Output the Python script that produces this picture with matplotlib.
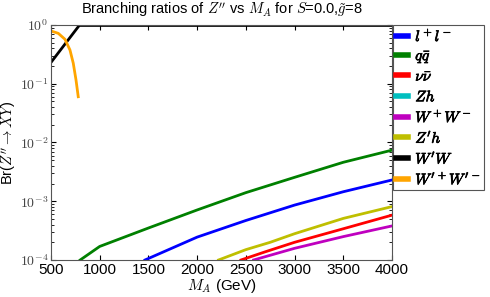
"""Branching ratios of Z'' vs M_A (S=0.0, g~=8)."""

import matplotlib

matplotlib.use("Agg")
import matplotlib.pyplot as plt
import matplotlib.patheffects as pe
from matplotlib.ticker import FuncFormatter
import numpy as np

plt.rcParams["mathtext.fontset"] = "cm"
plt.rcParams["font.family"] = ["Liberation Sans", "DejaVu Sans"]
plt.rcParams["font.size"] = 10

# (GeV, branching ratio)
m_qq = [800, 1000, 1500, 2000, 2500, 3000, 3500, 4000]
br_qq = [1.0e-4, 1.7e-4, 3.5e-4, 7.1e-4, 1.4e-3, 2.55e-3, 4.6e-3, 7.4e-3]

m_ll = [1465, 2000, 2500, 3000, 3500, 4000]
br_ll = [1.0e-4, 2.45e-4, 4.7e-4, 8.6e-4, 1.45e-3, 2.3e-3]

m_zph = [2220, 2500, 2750, 3000, 3500, 4000]
br_zph = [1.0e-4, 1.5e-4, 2.0e-4, 2.8e-4, 5.1e-4, 8.1e-4]

m_nn = [2450, 2700, 3000, 3500, 4000]
br_nn = [1.0e-4, 1.38e-4, 2.0e-4, 3.4e-4, 5.8e-4]

m_ww = [2580, 3000, 3500, 4000]
br_ww = [1.0e-4, 1.58e-4, 2.5e-4, 3.8e-4]

m_wpw = [500, 790, 4000]
br_wpw = [0.23, 0.98, 0.98]

m_wpwp = [500, 575, 644, 695, 729, 757, 780]
br_wpwp = [0.79, 0.72, 0.57, 0.375, 0.223, 0.116, 0.060]

# Zh stays below the plotted range
m_zh = [3900, 4000]
br_zh = [1.0e-5, 1.1e-5]

labels = [r"$l^+l^-$", r"$q\bar{q}$", r"$\nu\bar{\nu}$", r"$Zh$",
          r"$W^+W^-$", r"$Z'h$", r"$W'W$", r"$W'^+W'^-$"]
colors = ["blue", "green", "red", "c", "m", "y", "black", "orange"]
series = [(m_ll, br_ll), (m_qq, br_qq), (m_nn, br_nn), (m_zh, br_zh),
          (m_ww, br_ww), (m_zph, br_zph), (m_wpw, br_wpw), (m_wpwp, br_wpwp)]

fig = plt.figure(figsize=(4.9, 2.97), dpi=100)
ax = fig.add_axes([0.104, 0.1246, 0.696, 0.7914])

for (x, y), c, lab in zip(series, colors, labels):
    ax.plot(x, y, color=c, lw=2, label=lab)

ax.set_yscale("log")
ax.set_xlim(500, 4000)
ax.set_ylim(1e-4, 1)
ax.set_xticks(range(500, 4001, 500))
ax.yaxis.set_major_formatter(FuncFormatter(lambda v, p: r"$10^{%d}$" % round(np.log10(v))))
ax.tick_params(which="both", direction="in", top=True, right=True)
ax.tick_params(axis="x", labelsize=11, pad=2)
ax.tick_params(axis="y", labelsize=10, labelcolor="#444444", pad=2)
for sp in ax.spines.values():
    sp.set_color("#555555")

ax.set_title(r"Branching ratios of $Z''$ vs $M_A$ for $S$=0.0,$\tilde{g}$=8",
             fontsize=10.5, pad=8)
ax.set_xlabel(r"$M_A$ (GeV)", fontsize=11, labelpad=0)
ax.set_ylabel(r"Br($Z''\to XY$)", fontsize=10.5, labelpad=1)

leg = ax.legend(loc="upper left", bbox_to_anchor=(1.003, 1.0), borderaxespad=0,
                handlelength=0.8, handletextpad=0.45, labelspacing=0.3,
                fontsize=11, fancybox=False, framealpha=1, borderpad=0.2)
leg.get_frame().set_edgecolor("#555555")
leg.get_frame().set_linewidth(0.8)
for line in leg.get_lines():
    line.set_linewidth(4)
for t in leg.get_texts():
    t.set_path_effects([pe.withStroke(linewidth=0.5, foreground="black")])

fig.savefig("out.png", dpi=100)
